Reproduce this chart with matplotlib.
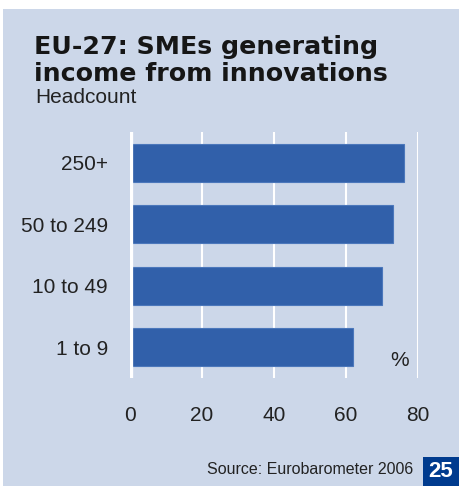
import matplotlib.pyplot as plt
from matplotlib.patches import Rectangle

plt.rcParams['font.family'] = ['Liberation Sans', 'DejaVu Sans']

# Eurobarometer 2006, share of SMEs with income from innovations (%)
sizes = ['1 to 9', '10 to 49', '50 to 249', '250+']
share = [62, 70, 73, 76]
xticks = [0, 20, 40, 60, 80]

bg = '#ccd7e9'
bar_col = '#3160aa'

fig = plt.figure(figsize=(4.59, 4.86), dpi=100)
fig.patch.set_facecolor('white')
# light blue panel behind everything
fig.patches.append(Rectangle((3 / 459, 0), 1, 1 - 9 / 486, transform=fig.transFigure,
                             facecolor=bg, edgecolor='none', zorder=-5))

ax = fig.add_axes([130 / 459, 1 - 378 / 486, 288 / 459, 246 / 486])
ax.set_facecolor('none')
for s in ax.spines.values():
    s.set_visible(False)

for x in xticks[1:]:
    ax.axvline(x, color='white', lw=1.5, zorder=1)
# thick zero line sits on top of the bar starts
ax.axvline(0, color='white', lw=3.8, zorder=3)

ypos = range(len(sizes))
ax.barh(ypos, share, height=0.625, color=bar_col, edgecolor='#4b77bb',
        linewidth=0.8, zorder=2)

ax.set_xlim(0, 80)
ax.set_ylim(-0.5, 3.5)
ax.set_yticks(list(ypos))
ax.set_yticklabels(sizes, fontsize=15, color='#222222')
ax.set_xticks(xticks)
ax.set_xticklabels([str(v) for v in xticks], fontsize=15, color='#222222')
ax.tick_params(length=0)
ax.tick_params(axis='y', pad=16)
ax.tick_params(axis='x', pad=20)

ax.text(75, -0.22, '%', fontsize=15, color='#222222', ha='center', va='center')

title_font = dict(fontsize=18.2, fontweight='bold', color='#161616', ha='left',
                  va='baseline', family='DejaVu Sans')
fig.text(34 / 459, 1 - 54 / 486, 'EU-27: SMEs generating', **title_font)
fig.text(34 / 459, 1 - 81 / 486, 'income from innovations', **title_font)
fig.text(35 / 459, 1 - 103 / 486, 'Headcount', fontsize=15, color='#222222',
         ha='left', va='baseline')
fig.text(413 / 459, 1 - 474 / 486, 'Source: Eurobarometer 2006', fontsize=11.5,
         color='#222222', ha='right', va='baseline')

fig.patches.append(Rectangle((423 / 459, 0), 36 / 459, 29 / 486, transform=fig.transFigure,
                             facecolor='#003b8e', edgecolor='none', zorder=1))
fig.text(441 / 459, 1 - 471 / 486, '25', fontsize=16, fontweight='bold', color='white',
         ha='center', va='center')

fig.savefig('out.png', dpi=100, facecolor=fig.get_facecolor())
